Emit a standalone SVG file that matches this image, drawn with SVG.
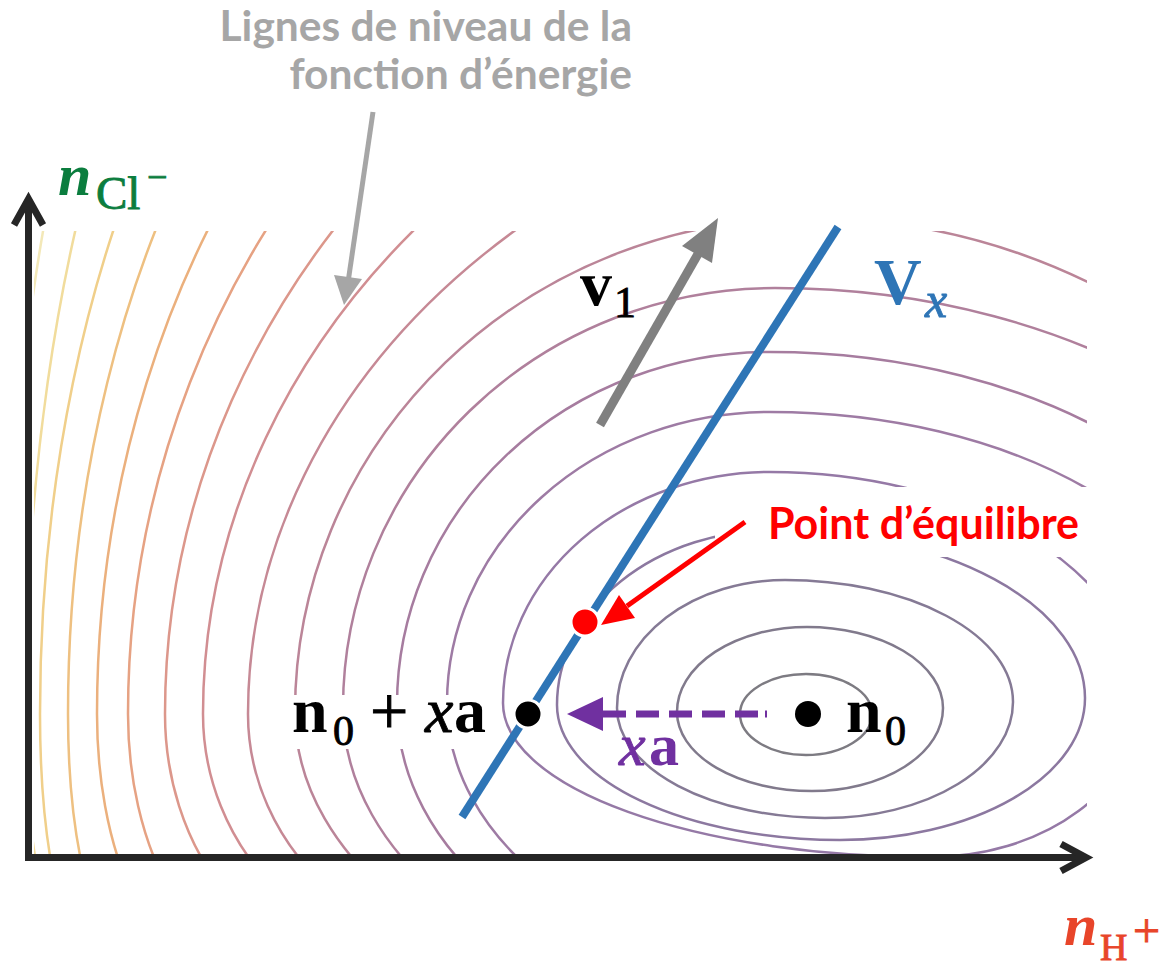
<svg xmlns="http://www.w3.org/2000/svg" width="1171" height="969" viewBox="0 0 1171 969">
<defs>
<clipPath id="plot"><rect x="34" y="231" width="1053" height="626"/></clipPath>
<style>
.c{fill:none;stroke-width:2.5}
.lato{font-family:Lato,"Open Sans",sans-serif;font-weight:bold}
.m{font-family:"Liberation Serif","DejaVu Serif",serif}
.th{stroke-width:0.9}
.ax{fill:none;stroke:#262626;stroke-width:7;stroke-linejoin:miter}
</style>
</defs>
<rect width="1171" height="969" fill="#fff"/>
<g id="contours" clip-path="url(#plot)">
<path class="c" stroke="#7d7b82" d="M740,714 A66,40 0 0 1 806,674 A66,40 0 0 1 872,714 A66,41 0 0 1 806,755 A66,41 0 0 1 740,714 Z"/>
<path class="c" stroke="#817a8c" d="M677,712 A130,85 0 0 1 807,627 A136,81 0 0 1 943,708 A131,83 0 0 1 812,791 A135,79 0 0 1 677,712 Z"/>
<path class="c" stroke="#857a95" d="M617,708 A168,128 0 0 1 785,580 A228,122 0 0 1 1013,702 A188,116 0 0 1 825,818 A208,110 0 0 1 617,708 Z"/>
<path class="c" stroke="#8c78a0" d="M557,705 A218,175 0 0 1 775,530 A310,168 0 0 1 1085,698 A245,142 0 0 1 840,840 A283,135 0 0 1 557,705 Z"/>
<path class="c" stroke="#9579a6" d="M503,703 A267,231 0 0 1 770,472 A370,228 0 0 1 1140,700 A210,157 0 0 1 930,857 A427,154 0 0 1 503,703 Z"/>
<path class="c" stroke="#9e7ba4" d="M447,703 A323,291 0 0 1 770,412 A460,278 0 0 1 1230,690 A423,273 0 0 1 807,963 A360,260 0 0 1 447,703 Z"/>
<path class="c" stroke="#a67c9f" d="M397,705 A373,353 0 0 1 770,352 A520,338 0 0 1 1290,690 A520,295 0 0 1 770,985 A373,280 0 0 1 397,705 Z"/>
<path class="c" stroke="#b0809c" d="M343,708 A432,420 0 0 1 775,288 A595,402 0 0 1 1370,690 A614,308 0 0 1 756,998 A413,290 0 0 1 343,708 Z"/>
<path class="c" stroke="#bb8598" d="M295,712 A513,494 0 0 1 808,218 A572,502 0 0 1 1380,720 A662,282 0 0 1 718,1002 A423,290 0 0 1 295,712 Z"/>
<path class="c" stroke="#c68995" d="M1053,64 A805,650 0 0 0 248,714 A281,250 0 0 0 529,964"/>
<path class="c" stroke="#d18e92" d="M1097,-36 A894,750 0 0 0 203,714 A253,250 0 0 0 456,964"/>
<path class="c" stroke="#dc978b" d="M1112,-136 A947,850 0 0 0 165,714 A201,250 0 0 0 366,964"/>
<path class="c" stroke="#e6a283" d="M1009,-186 A881,900 0 0 0 128,714 A144,250 0 0 0 272,964"/>
<path class="c" stroke="#ebb07d" d="M804,-186 A707,900 0 0 0 97,714 A115,250 0 0 0 212,964"/>
<path class="c" stroke="#eec081" d="M627,-186 A559,900 0 0 0 68,714 A69,250 0 0 0 137,964"/>
<path class="c" stroke="#f0cf8a" d="M509,-186 A469,900 0 0 0 40,714 A57,250 0 0 0 97,964"/>
<path class="c" stroke="#f1dc9c" d="M347,-186 A322,900 0 0 0 25,714 A57,250 0 0 0 82,964"/>
<path class="c" stroke="#f3e8b8" d="M249,-186 A244,900 0 0 0 5,714 A40,250 0 0 0 45,964"/>
</g>
<g id="label-boxes" fill="#fff">
<rect x="715" y="487" width="380" height="70"/>
<rect x="289" y="695" width="201" height="54"/>
</g>
<g id="axes">
<polyline class="ax" points="28.5,199 28.5,857.5 1086,857.5"/>
<polyline class="ax" points="14,225 28.5,199 43,225"/>
<polyline class="ax" points="1061,844 1086,857.5 1061,871"/>
</g>
<g id="connectors">
<line x1="462" y1="817" x2="838" y2="227" stroke="#2e75b6" stroke-width="8"/>
<line x1="600" y1="425" x2="698" y2="254" stroke="#808080" stroke-width="9"/>
<polygon points="718,218 682,246 712,263" fill="#808080"/>
<line x1="373" y1="112" x2="348.5" y2="279" stroke="#a6a6a6" stroke-width="5"/>
<polygon points="344,305 334,275 362,279" fill="#a6a6a6"/>
<line x1="745" y1="522" x2="627" y2="606" stroke="#ff0000" stroke-width="5"/>
<polygon points="601,625 619,595 635,618" fill="#ff0000"/>
<path d="M767,714 H603" stroke="#7030a0" stroke-width="7" stroke-dasharray="2,7,23,10,23,10,23,10,23,10,23,10,23,20"/>
<polygon points="567,714 603,697 603,731" fill="#7030a0"/>
</g>
<g id="point-n0x"><circle cx="528" cy="714" r="14" fill="#000" stroke="#fff" stroke-width="3"/></g>
<g id="point-eq"><circle cx="585" cy="622" r="14" fill="#ff0000" stroke="#fff" stroke-width="3"/></g>
<g id="point-n0"><circle cx="808" cy="714" r="13" fill="#000"/></g>
<g id="labels">
<text class="lato" fill="#a6a6a6" font-size="42.5" text-anchor="end"><tspan x="632" y="41">Lignes de niveau de la</tspan><tspan x="632" y="89">fonction d’énergie</tspan></text>
<text class="lato" fill="#ff0000" font-size="43" x="768" y="539">Point d’équilibre</text>
<text class="m" fill="#0b7d3e" stroke="#0b7d3e"><tspan x="58" y="195" font-size="60" font-style="italic" font-weight="bold" stroke-width="0">n</tspan><tspan class="th" x="96" y="209" font-size="47">Cl</tspan><tspan class="th" x="147" y="189" font-size="36">−</tspan></text>
<text class="m" fill="#e8452a" stroke="#e8452a"><tspan x="1064" y="945" font-size="60" font-style="italic" font-weight="bold" stroke-width="0">n</tspan><tspan class="th" x="1100" y="960" font-size="38">H</tspan><tspan class="th" x="1133" y="947" font-size="48">+</tspan></text>
<text class="m" fill="#000" stroke="#000"><tspan x="580" y="305" font-size="64" font-weight="bold" stroke-width="0">v</tspan><tspan class="th" x="614" y="317" font-size="44">1</tspan></text>
<text class="m" fill="#2e75b6" stroke="#2e75b6"><tspan x="874" y="304" font-size="66" font-weight="bold" stroke-width="0">V</tspan><tspan class="th" x="925" y="317" font-size="50" font-style="italic">x</tspan></text>
<text class="m" fill="#000" stroke="#000"><tspan x="292" y="732" font-size="64" font-weight="bold" stroke-width="0">n</tspan><tspan class="th" x="333" y="745" font-size="42">0</tspan><tspan class="th" x="370" y="734" font-size="68">+</tspan><tspan class="th" x="425" y="732" font-size="64" font-style="italic">x</tspan><tspan x="454" y="732" font-size="64" font-weight="bold" stroke-width="0">a</tspan></text>
<text class="m" fill="#000" stroke="#000"><tspan x="846" y="732" font-size="64" font-weight="bold" stroke-width="0">n</tspan><tspan class="th" x="885" y="745" font-size="42">0</tspan></text>
<text class="m" fill="#7030a0" stroke="#7030a0"><tspan class="th" x="619" y="765" font-size="60" font-style="italic">x</tspan><tspan x="649" y="765" font-size="60" font-weight="bold" stroke-width="0">a</tspan></text>
</g>
</svg>
